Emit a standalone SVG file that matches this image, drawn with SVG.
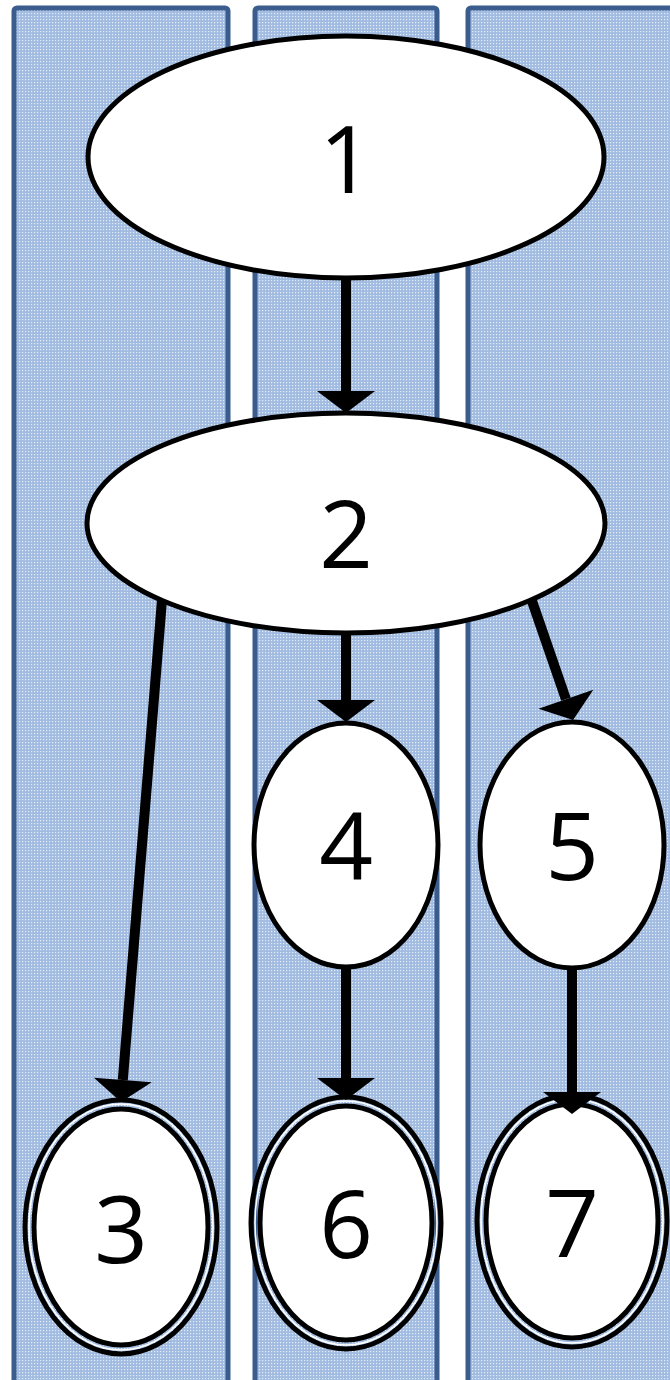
<svg xmlns="http://www.w3.org/2000/svg" width="670" height="1380" viewBox="0 0 670 1380">
  <defs>
    <pattern id="dots" width="3" height="3" patternUnits="userSpaceOnUse">
      <rect width="3" height="3" fill="#a1bbe1"/>
      <rect x="1" y="1" width="1.2" height="1.2" fill="#e4edf8"/>
    </pattern>
    <marker id="head" markerUnits="userSpaceOnUse" markerWidth="24" markerHeight="60" refX="0" refY="29" orient="auto" overflow="visible">
      <path d="M0,0 L22,29 L0,58 Z" fill="#000"/>
    </marker>
    <style>
      .lane { fill: url(#dots); stroke: #3a5d8e; stroke-width: 5; }
      .node { fill: #fff; stroke: #000; stroke-width: 5; }
      .ring { fill: none; stroke: #000; stroke-width: 5; }
      .gap { fill: none; stroke: #fff; stroke-width: 1.6; }
      .edge { stroke: #000; stroke-width: 10; fill: none; marker-end: url(#head); }
      .label { font-family: "Open Sans", "Liberation Sans", sans-serif; font-size: 94px; fill: #000; text-anchor: middle; }
    </style>
  </defs>

  <rect width="670" height="1380" fill="#fff"/>

  <!-- swimlanes -->
  <g id="lanes">
    <rect class="lane" x="14" y="8" width="214" height="1392" rx="3"/>
    <rect class="lane" x="255" y="8" width="182" height="1392" rx="3"/>
    <rect class="lane" x="468" y="8" width="220" height="1392" rx="3"/>
  </g>

  <g id="node1">
    <ellipse class="node" cx="346" cy="157" rx="258" ry="121"/>
    <text class="label" x="346" y="193">1</text>
  </g>

  <g id="node2">
    <ellipse class="node" cx="346" cy="523" rx="259" ry="110"/>
    <text class="label" x="346" y="568">2</text>
  </g>

  <g id="node4">
    <ellipse class="node" cx="346" cy="845" rx="92" ry="122"/>
    <text class="label" x="346" y="880">4</text>
  </g>

  <g id="node5">
    <ellipse class="node" cx="572" cy="845" rx="92" ry="123"/>
    <text class="label" x="572" y="880">5</text>
  </g>

  <g id="node3">
    <ellipse class="ring" cx="121" cy="1227" rx="96" ry="127"/>
    <ellipse class="gap" cx="121" cy="1227" rx="92" ry="123"/>
    <ellipse class="node" cx="121" cy="1227" rx="87" ry="118"/>
    <text class="label" x="121" y="1263">3</text>
  </g>

  <g id="node6">
    <ellipse class="ring" cx="346" cy="1223" rx="95" ry="126"/>
    <ellipse class="gap" cx="346" cy="1223" rx="91" ry="122"/>
    <ellipse class="node" cx="346" cy="1223" rx="86" ry="117"/>
    <text class="label" x="346" y="1258">6</text>
  </g>

  <g id="node7">
    <ellipse class="ring" cx="572" cy="1221" rx="95" ry="126"/>
    <ellipse class="gap" cx="572" cy="1221" rx="91" ry="122"/>
    <ellipse class="node" cx="572" cy="1221" rx="86" ry="117"/>
    <text class="label" x="572" y="1257">7</text>
  </g>

  <!-- connectors, drawn over the node outlines -->
  <g id="edges">
    <line class="edge" x1="346" y1="280" x2="346" y2="391"/>
    <line class="edge" x1="162" y1="600" x2="122.8" y2="1080"/>
    <line class="edge" x1="346" y1="635" x2="346" y2="700"/>
    <line class="edge" x1="532" y1="601" x2="565.9" y2="699.2"/>
    <line class="edge" x1="346" y1="969" x2="346" y2="1078"/>
    <line class="edge" x1="572" y1="970" x2="572" y2="1092"/>
  </g>
</svg>
